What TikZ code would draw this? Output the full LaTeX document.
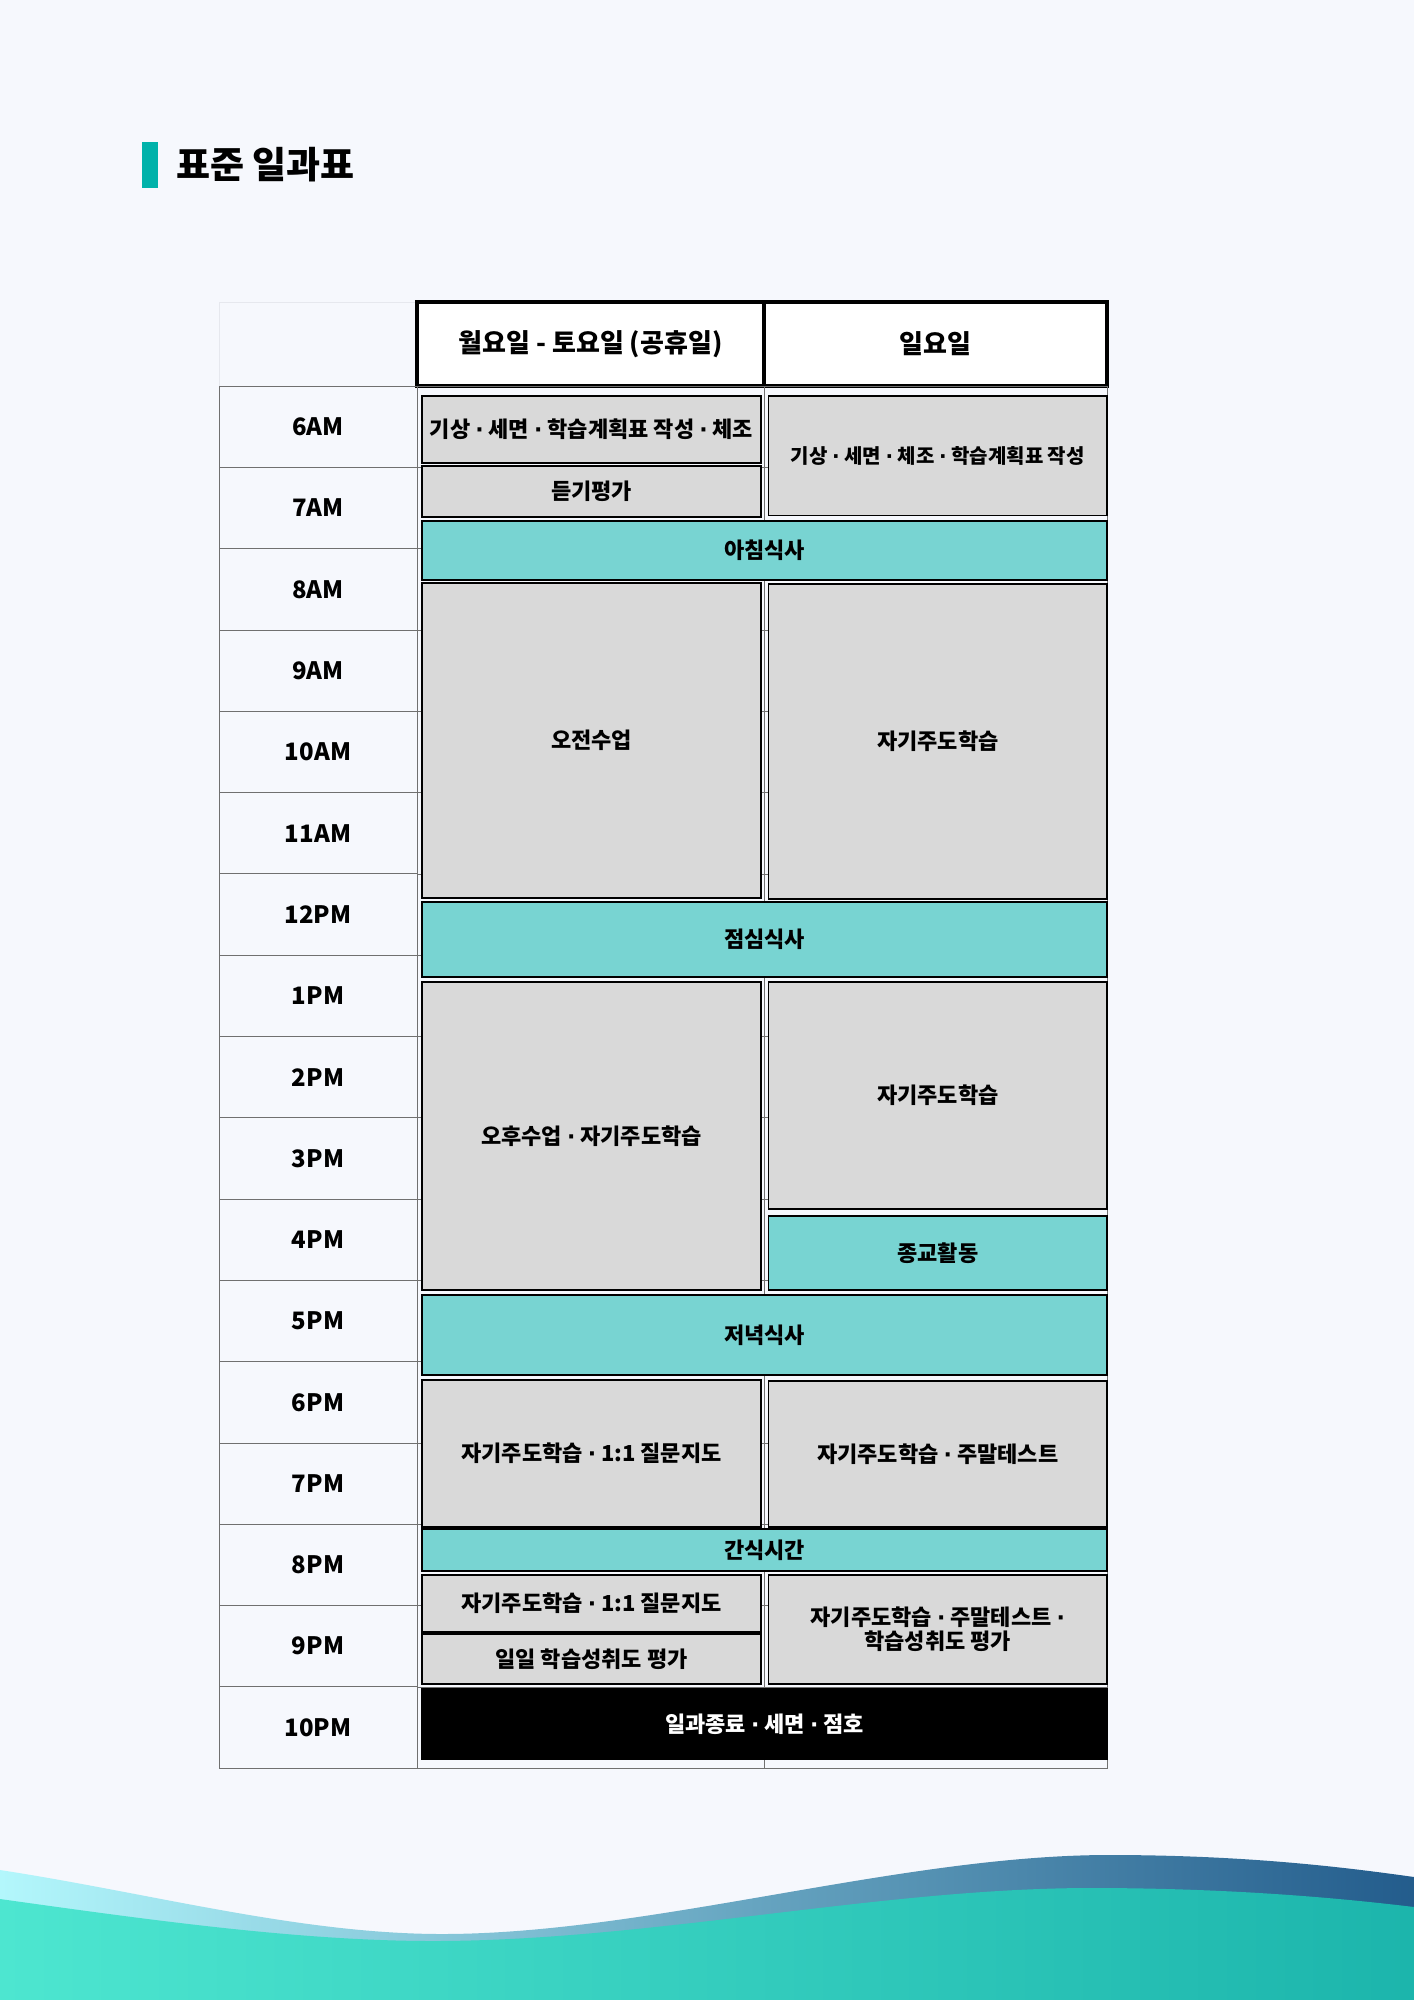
\documentclass[tikz,border=0pt]{standalone}
\usepackage{fontspec}
\setmainfont{Noto Sans CJK KR}
\newfontfamily\dotfont{DejaVu Sans}
\newcommand\md{{\dotfont\bfseries ·}}
\definecolor{pagebg}{HTML}{F6F8FD}
\definecolor{slotgrey}{HTML}{D9D9D9}
\definecolor{mealteal}{HTML}{78D4D2}
\definecolor{titleteal}{HTML}{00B2AA}
\definecolor{gridgrey}{HTML}{707070}
\definecolor{cornergrey}{HTML}{E6E8EE}
\definecolor{backA}{HTML}{B3F7FC}
\definecolor{backB}{HTML}{48A9C6}
\definecolor{backC}{HTML}{235C8C}
\definecolor{frontA}{HTML}{4DE6D0}
\definecolor{frontB}{HTML}{2CD3C3}
\definecolor{frontC}{HTML}{1CB5AC}

\begin{document}
\begin{tikzpicture}[x=1pt, y=-1pt,
    cellbox/.style={anchor=north west, inner sep=0pt, outer sep=0pt, align=center},
    timecell/.style={cellbox, draw=gridgrey, line width=0.8pt, minimum width=198pt, minimum height=81.3pt,
        font=\fontsize{24}{28}\selectfont\bfseries},
    headbox/.style={cellbox, draw=black, line width=3.5pt, fill=white, minimum height=84pt,
        font=\fontsize{26}{30}\selectfont\bfseries},
    greybox/.style={cellbox, draw=black, line width=1.6pt, fill=slotgrey,
        font=\fontsize{22}{24}\selectfont\bfseries},
    mealbox/.style={greybox, fill=mealteal},
    nightbox/.style={greybox, fill=black, text=white},
    gridline/.style={draw=gridgrey, line width=0.6pt}]
    \def\slot#1#2#3#4#5#6#7{
        \node[#6, minimum width={#4-#2}, minimum height={#5-#3}] (#1) at (#2,#3) {#7};
    }

    % Page
    \fill[pagebg] (0,0) rectangle (1414,2000);
    \useasboundingbox (0,0) rectangle (1414,2000);

    % Title
    \node[fill=titleteal, inner sep=0pt, minimum width=16pt, minimum height=46pt, anchor=north west] (titlebar) at (141.7,141.7) {};
    \node[anchor=west, inner sep=0pt, font=\fontsize{37}{42}\selectfont\bfseries] (title) at (176,164.7) {표준 일과표};

    % Header row
    \node[cellbox, draw=cornergrey, line width=0.8pt, minimum width=198pt, minimum height=84pt] (corner) at (219,302) {};
    \node[headbox, minimum width=347pt] (weekday) at (417,302) {월요일 - 토요일 (공휴일)};
    \node[headbox, minimum width=343pt] (sunday) at (764,302) {일요일};

    % Time column and grid
    \foreach \t [count=\i from 0] in {6AM,7AM,8AM,9AM,10AM,11AM,12PM,1PM,2PM,3PM,4PM,5PM,6PM,7PM,8PM,9PM,10PM}{
        \node[timecell] (time\i) at (219,{386+81.3*\i}) {\t};
        \draw[gridline] (417,{386+81.3*\i}) rectangle (764,{386+81.3*(\i+1)});
        \draw[gridline] (764,{386+81.3*\i}) rectangle (1107,{386+81.3*(\i+1)});
    }

    % Monday - Saturday
    \slot{wake}{422}{395.7}{761}{462.7}{greybox}{기상 \md{} 세면 \md{} 학습계획표 작성 \md{} 체조}
    \slot{listen}{422}{466}{761}{516.7}{greybox}{듣기평가}
    \slot{morning}{422}{583}{761}{898}{greybox}{오전수업}
    \slot{afternoon}{422}{982}{761}{1290}{greybox}{오후수업 \md{} 자기주도학습}
    \slot{evening}{422}{1380}{761}{1527}{greybox}{자기주도학습 \md{} 1:1 질문지도}
    \slot{night}{422}{1575}{761}{1632}{greybox}{자기주도학습 \md{} 1:1 질문지도}
    \slot{review}{422}{1634}{761}{1684}{greybox}{일일 학습성취도 평가}

    % Sunday
    \slot{wakesun}{768.5}{395.7}{1107}{515.3}{greybox, font=\fontsize{20}{22}\selectfont\bfseries}{기상 \md{} 세면 \md{} 체조 \md{} 학습계획표 작성}
    \slot{studysunA}{768.5}{584}{1107}{899}{greybox}{자기주도학습}
    \slot{studysunB}{768.5}{982}{1107}{1209}{greybox}{자기주도학습}
    \slot{religion}{768.5}{1216}{1107}{1290}{mealbox}{종교활동}
    \slot{eveningsun}{768.5}{1381}{1107}{1527}{greybox}{자기주도학습 \md{} 주말테스트}
    \slot{nightsun}{768.5}{1575}{1107}{1684}{greybox}{자기주도학습 \md{} 주말테스트 \md\\학습성취도 평가}

    % Shared rows
    \slot{breakfast}{422}{520.7}{1107}{580}{mealbox}{아침식사}
    \slot{lunch}{422}{902}{1107}{977}{mealbox}{점심식사}
    \slot{dinner}{422}{1295}{1107}{1375}{mealbox}{저녁식사}
    \slot{snack}{422}{1529}{1107}{1571}{mealbox}{간식시간}
    \slot{close}{422}{1689}{1107}{1759}{nightbox}{일과종료 \md{} 세면 \md{} 점호}

    % Waves
    \shade[left color=backA, middle color=backB, right color=backC]
        (0,1870) .. controls (150,1893) and (300,1934) .. (442,1934)
        .. controls (650,1934) and (900,1855) .. (1109,1855)
        .. controls (1250,1855) and (1350,1868) .. (1414,1877)
        -- (1414,2000) -- (0,2000) -- cycle;
    \shade[left color=frontA, middle color=frontB, right color=frontC]
        (0,1899) .. controls (150,1920) and (300,1941) .. (433,1941)
        .. controls (650,1941) and (880,1888) .. (1091,1888)
        .. controls (1230,1888) and (1340,1898) .. (1414,1907)
        -- (1414,2000) -- (0,2000) -- cycle;
\end{tikzpicture}
\end{document}
